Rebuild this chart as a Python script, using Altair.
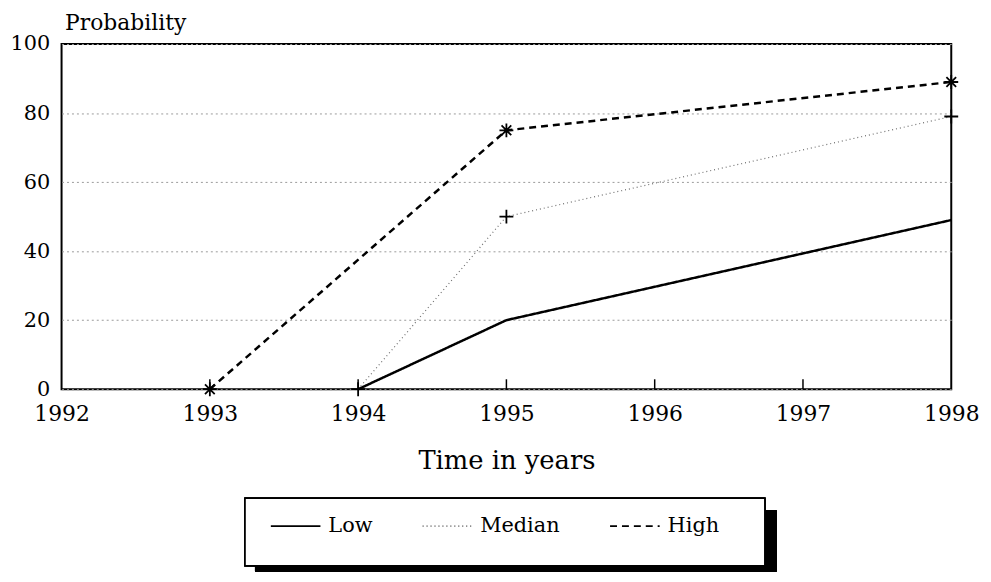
import altair as alt
import pandas as pd

# ---- data ----
series_names = ["Low", "Median", "High"]
low_years = [1994, 1995, 1998]
low_values = [0, 20, 49]
median_years = [1994, 1995, 1998]
median_values = [0, 50, 79]
high_years = [1993, 1995, 1998]
high_values = [0, 75, 89]
x_ticks = [1992, 1993, 1994, 1995, 1996, 1997, 1998]
y_ticks = [0, 20, 40, 60, 80, 100]
inner_ticks = [1993, 1994, 1995, 1996, 1997]

rows = []
for name, ys, vs in [("Low", low_years, low_values),
                     ("Median", median_years, median_values),
                     ("High", high_years, high_values)]:
    for yr, v in zip(ys, vs):
        rows.append({"year": yr, "prob": v, "series": name})
df = pd.DataFrame(rows)
tick_df = pd.DataFrame({"year": inner_ticks})

W, H = 897, 348
FONT = "DejaVu Serif"

xscale = alt.Scale(domain=[1992, 1998], nice=False, zero=False)
yscale = alt.Scale(domain=[0, 100], nice=False)

xaxis = alt.Axis(values=x_ticks, format="d", ticks=False, tickSize=0, domain=False,
                 grid=False, labelFont=FONT, labelFontSize=22, labelColor="black",
                 labelPadding=15, labelFlush=False,
                 title="Time in years", titleFont=FONT, titleFontSize=26,
                 titleFontWeight="normal", titleColor="black",
                 titleY=80, titleBaseline="alphabetic")
yaxis = alt.Axis(values=y_ticks, ticks=False, tickSize=0, domain=False,
                 grid=True, gridColor="#9a9a9a", gridDash=[2, 3], gridWidth=1,
                 labelFont=FONT, labelFontSize=21, labelColor="black",
                 labelPadding=12,
                 title="Probability", titleFont=FONT, titleFontSize=22,
                 titleFontWeight="normal", titleColor="black", titleAngle=0,
                 titleAlign="left", titleBaseline="alphabetic",
                 titleX=3, titleY=-15)

base = alt.Chart(df)

lines = base.mark_line(clip=False).encode(
    x=alt.X("year:Q", scale=xscale, axis=xaxis),
    y=alt.Y("prob:Q", scale=yscale, axis=yaxis),
    color=alt.Color("series:N",
                    scale=alt.Scale(domain=series_names, range=["black", "#6f6f6f", "black"]),
                    legend=alt.Legend(title=None, orient="none", direction="horizontal",
                                      legendX=210, legendY=460,
                                      symbolType="stroke", symbolSize=2500,
                                      symbolStrokeWidth=1.8,
                                      labelFont=FONT, labelFontSize=21, labelColor="black",
                                      labelOffset=7, columnPadding=46, padding=0)),
    strokeDash=alt.StrokeDash("series:N",
                              scale=alt.Scale(domain=series_names,
                                              range=[[1, 0], [1, 3], [7, 5]])),
    strokeWidth=alt.condition(alt.datum.series == "Median", alt.value(1.2), alt.value(2.5)),
)

plus_path = "M-1,0H1M0,-1V1"
star_path = "M-1,0H1M0,-1V1M-0.7,-0.7L0.7,0.7M-0.7,0.7L0.7,-0.7"

points = base.transform_filter(
    alt.FieldOneOfPredicate(field="series", oneOf=["Median", "High"])
).mark_point(filled=False, color="black", strokeWidth=1.8, size=196, opacity=1).encode(
    x=alt.X("year:Q", scale=xscale),
    y=alt.Y("prob:Q", scale=yscale),
    shape=alt.Shape("series:N",
                    scale=alt.Scale(domain=["Median", "High"], range=[plus_path, star_path]),
                    legend=None),
)

ticks = alt.Chart(tick_df).mark_rule(color="black", strokeWidth=1.5).encode(
    x=alt.X("year:Q", scale=xscale),
    y=alt.value(H),
    y2=alt.value(H - 10),
)

shadow = alt.Chart(tick_df).mark_rect(color="black").encode(
    x=alt.value(195), x2=alt.value(721), y=alt.value(470), y2=alt.value(532)
)
box = alt.Chart(tick_df).mark_rect(fill="white", stroke="black", strokeWidth=1.5).encode(
    x=alt.value(185), x2=alt.value(709), y=alt.value(458), y2=alt.value(526)
)

chart = alt.layer(shadow, box, ticks, lines, points).properties(
    width=W, height=H,
    autosize=alt.AutoSizeParams(type="none"),
    padding={"left": 54, "top": 34, "right": 32, "bottom": 184},
    background="white",
).configure_view(stroke="black", strokeWidth=2)

chart.save("out.html", embed_options={"renderer": "svg", "actions": False})
